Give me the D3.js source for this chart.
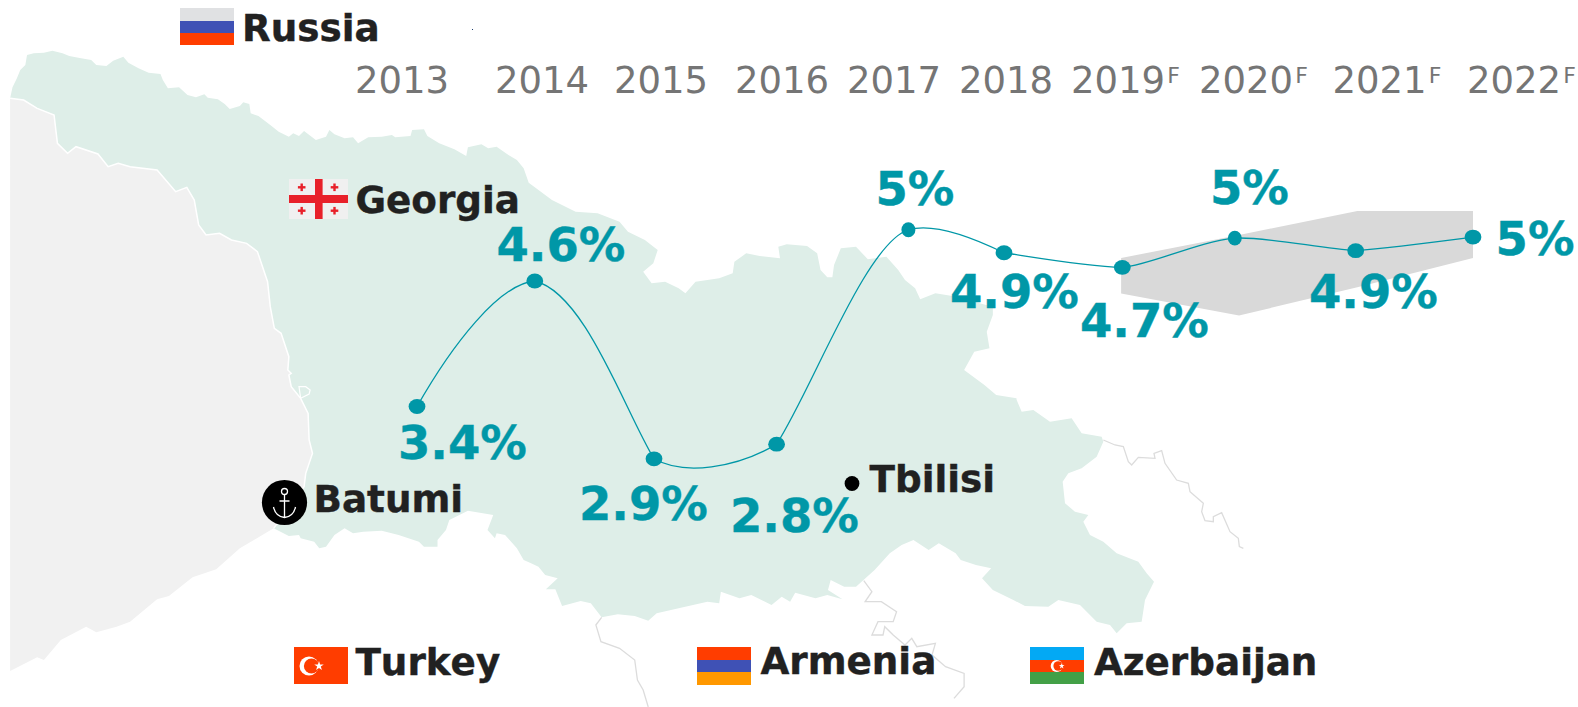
<!DOCTYPE html>
<html><head><meta charset="utf-8">
<script src="https://cdn.jsdelivr.net/npm/d3@7/dist/d3.min.js"></script>
<style>html,body{margin:0;padding:0;background:#fff}svg{display:block}text{font-family:"DejaVu Sans",sans-serif;font-kerning:none}</style>
</head><body><svg id="c" width="1578" height="707"></svg>
<script>
// ---- chart data ----
const years = [2013,2014,2015,2016,2017,2018,2019,2020,2021,2022];
const forecastFlag = [0,0,0,0,0,0,1,1,1,1];
const valueLabels = ["3.4%","4.6%","2.9%","2.8%","5%","4.9%","4.7%","5%","4.9%","5%"];
// heights as plotted in the picture (differ slightly from the printed labels)
const plotted = [3.4,4.6,2.9,3.04,5.09,4.87,4.73,5.01,4.89,5.02];
const bandYears = [2018.99,2020.035,2021.014,2022];
const bandUpper = [4.82,5.04,5.27,5.27];
const bandLower = [4.48,4.27,4.54,4.82];
const countries = ["Russia","Georgia","Batumi","Tbilisi","Turkey","Armenia","Azerbaijan"];
// the line's smoothing, per segment: how far along the year and by how much value each handle reaches
const leaveYear  = [.297,.419,.245,.273,.26,.304,.247,.25,.249];
const leaveValue = [.588,-.115,-.163,.535,.07,-.051,.022,.017,.022];
const arriveYear = [.304,.252,.326,.322,.314,.315,.309,.295,.281];
const arriveValue= [-.029,.478,-.229,-.131,.14,.012,-.026,.022,-.041];

// ---- scales ----
const x = d3.scaleLinear().domain(years).range([417,534.8,654,776.6,908.4,1004,1122.3,1234.8,1355.7,1473]);
const y = d3.scaleLinear().domain([3.4,4.6]).range([406.5,281]);
const yearLeft = d3.scaleOrdinal().domain(years).range([355,495,614,735,847,959,1071,1199,1332.5,1467]);
const labelX = d3.scaleOrdinal().domain(years).range([398,496.5,579,730,875.5,950,1080,1210,1309,1495.6]);
const labelY = d3.scaleOrdinal().domain(years).range([459,261,520,532,205,308,337,204,308,255]);
const nameX = d3.scaleOrdinal().domain(countries).range([242,355.4,313.5,869.5,355.4,760.4,1094]);
const nameY = d3.scaleOrdinal().domain(countries).range([40.7,213.3,511.7,491.7,675,674.3,675]);

const crop = (ox,oy,fx,pts)=>pts.map(p=>[ox+p[0]/fx, oy+p[1]/3]);
const north = crop(0,0,2.96,[[30,295],[37,262],[50,235],[60,210],[75,195],[80,165],[100,160],[130,158],[155,152],[185,160],[205,168],[240,175],[270,180],[285,195],[315,198],[335,182],[365,170],[380,188],[410,205],[440,218],[475,222],[482,240],[497,265],[530,262],[555,285],[580,292],[605,283],[615,293],[645,298],[665,312],[680,327],[710,318],[720,307],[738,312],[742,340],[765,348],[800,375],[825,395],[855,410],[868,400],[885,408],[900,393],[935,420],[965,410],[975,390],[990,403],[1020,415],[1045,412],[1060,430],[1090,412],[1130,410],[1160,405],[1170,412],[1215,408],[1220,390],[1255,388],[1265,408],[1300,430],[1345,448],[1380,468],[1385,442],[1425,433],[1445,445],[1470,440],[1505,465],[1530,480],[1550,505],[1565,548]]);
const northEast = crop(530,200,2.96,[[65,0],[135,35],[200,40],[265,65],[290,95],[340,120],[378,150],[365,190],[335,215],[360,250],[400,245],[440,265],[460,280],[490,245],[560,235],[600,220],[605,185],[640,160],[680,168],[740,175],[735,140],[760,133],[820,138],[850,160],[860,210],[880,232],[895,232],[900,195],[920,145],[965,140],[1000,178],[1055,170],[1090,210],[1110,240],[1140,265],[1155,298],[1200,280],[1250,288],[1370,320],[1370,345],[1352,395],[1360,445],[1315,455],[1285,510],[1345,555],[1380,585],[1440,595]]);
const east = crop(1000,400,3,[[50,0],[65,35],[100,30],[150,65],[215,55],[245,100],[305,110],[310,125],[290,170],[245,205],[205,220],[188,245],[195,310],[225,335],[265,345],[250,365],[270,405],[310,425],[350,460],[415,485],[440,520],[462,545],[435,600],[425,665],[380,670],[350,700],[330,675],[290,665],[240,615],[175,600],[145,620],[75,618],[40,600]]);
const southA = crop(530,470,2.96,[[1370,360],[1338,325],[1365,295],[1320,285],[1275,270],[1260,250],[1210,220],[1180,240],[1135,210],[1100,225],[1065,250],[1020,300],[965,350],[930,350],[890,330],[882,360],[925,388],[880,375],[845,385],[785,368],[770,395],[745,380],[715,405],[655,375],[620,385],[565,365],[560,400],[525,395],[440,415],[375,430],[350,452],[310,438],[260,433],[212,442],[180,400],[150,393],[95,408],[75,358],[47,358],[82,325],[45,315],[25,290],[0,278]]);
const southB = crop(0,470,2.96,[[1550,270],[1530,235],[1495,195],[1470,190],[1465,205],[1443,180],[1460,135],[1385,122],[1330,150],[1320,180],[1295,210],[1295,230],[1255,230],[1240,215],[1180,195],[1130,182],[1075,185],[1045,190],[1020,175],[990,195],[965,230],[945,235],[930,215],[890,205],[885,195],[855,198],[810,175]]);
const coast = [...crop(0,470,2.96,[[810,175],[900,50]]),
  ...crop(0,240,2.96,[[905,700],[925,640],[915,600],[912,520],[890,475],[862,440],[855,405],[862,400],[852,390],[855,350],[832,280],[812,265],[800,200],[792,125],[762,35],[730,10],[685,0]]),
  ...crop(0,0,2.96,[[650,700],[610,705],[588,675],[575,600],[553,562],[520,575],[465,510],[385,500],[350,490],[320,500],[290,462],[225,440],[200,460],[170,430],[160,345],[110,325],[70,300],[30,295]])];
const islet = crop(0,240,2.96,[[890,475],[915,462],[918,450],[905,440],[885,440],[890,475]]);
const westEdge = crop(0,470,2.96,[[30,603],[110,562],[130,570],[180,510],[255,470],[285,487],[345,470],[385,455],[465,388],[500,378],[570,322],[640,298],[710,235],[810,175]]);
const borderA = crop(530,470,2.96,[[212,442],[195,465],[210,515],[265,535],[310,570],[318,630],[335,660],[350,711]]);
const borderB = crop(530,470,2.96,[[988,332],[1012,365],[992,395],[1040,395],[1085,425],[1075,455],[1030,455],[1012,495],[1045,495],[1050,470],[1075,495],[1110,525],[1130,505],[1145,530],[1200,520],[1190,555],[1230,590],[1285,610],[1285,650],[1255,685]]);
const borderC = crop(1000,400,3,[[310,120],[345,135],[370,140],[385,185],[395,195],[415,172],[465,175],[462,160],[485,152],[495,190],[530,240],[565,250],[570,275],[610,310],[605,335],[615,362],[640,365],[640,350],[665,338],[690,395],[715,415],[718,440],[730,445]]);

const svg = d3.select("#c");
const ln = d3.line();
const poly = pts => ln(pts)+"Z";

// map
svg.append("path").attr("d",poly([...coast,...westEdge])).attr("fill","#f1f1f1");
svg.append("path").attr("d",poly([...north,...northEast,...east,...southA,...southB,...coast])).attr("fill","#deeee8");
svg.append("path").attr("d",ln(coast)).attr("fill","none").attr("stroke","#fff").attr("stroke-width",1.5);
svg.append("path").attr("d",ln(islet)).attr("fill","none").attr("stroke","#fff").attr("stroke-width",1.2);
[borderA,borderB,borderC].forEach(b=>svg.append("path").attr("d",ln(b)).attr("fill","none").attr("stroke","#dcdcdc").attr("stroke-width",1.3));

// tiny speck
svg.append("rect").attr("x",472).attr("y",29).attr("width",1).attr("height",1).attr("fill","#1a3a6a");

// forecast band
const bandRows = bandYears.map((t,i)=>({t,u:bandUpper[i],l:bandLower[i]}));
svg.append("path").datum(bandRows)
  .attr("d",d3.area().x(d=>x(d.t)).y0(d=>y(d.l)).y1(d=>y(d.u)))
  .attr("fill","#d9d9d9");

// line + dots
const rows = years.map((t,i)=>({t,v:plotted[i],label:valueLabels[i],f:forecastFlag[i]}));
const lp = d3.path();
lp.moveTo(x(years[0]),y(plotted[0]));
leaveYear.forEach((_,i)=>{
  const t0=years[i],t1=years[i+1],v0=plotted[i],v1=plotted[i+1];
  lp.bezierCurveTo(x(t0+leaveYear[i]),y(v0+leaveValue[i]),x(t1-arriveYear[i]),y(v1+arriveValue[i]),x(t1),y(v1));
});
svg.append("path").attr("d",lp.toString())
  .attr("fill","none").attr("stroke","#0097a7").attr("stroke-width",1.3);
svg.selectAll("ellipse.pt").data(rows).join("ellipse").attr("class","pt")
  .attr("cx",d=>x(d.t)).attr("cy",d=>y(d.v))
  .attr("rx",d=>(d.t===2017||d.t===2020)?7:8.4).attr("ry",7.4).attr("fill","#0097a7");
svg.selectAll("text.val").data(rows).join("text").attr("class","val")
  .attr("x",d=>labelX(d.t)).attr("y",d=>labelY(d.t)).text(d=>d.label)
  .attr("font-size",46.5).attr("font-weight",700).attr("fill","#0097a7").attr("stroke","#0097a7").attr("stroke-width",0.4);

// year labels
const yl = svg.selectAll("text.yr").data(rows).join("text").attr("class","yr")
  .attr("x",d=>yearLeft(d.t)).attr("y",93).attr("font-size",37).attr("fill","#757575");
yl.append("tspan").text(d=>d.t);
yl.filter(d=>d.f).append("tspan").text("F").attr("font-size",22).attr("dx",2).attr("dy",-10);

// names
svg.selectAll("text.nm").data(countries).join("text").attr("class","nm")
  .attr("x",d=>nameX(d)).attr("y",d=>nameY(d)).text(d=>d)
  .attr("font-size",37.3).attr("font-weight",700).attr("fill","#212121").attr("stroke","#212121").attr("stroke-width",0.4);

// flags
function stripes(x0,y0,w,hs,cols){let yy=y0;hs.forEach((h,i)=>{svg.append("rect").attr("x",x0).attr("y",yy).attr("width",w).attr("height",h).attr("fill",cols[i]);yy+=h;});}
stripes(180,8,54,[13,12,12],["#e0e1e3","#3f51b5","#ff3d00"]);
stripes(697,647,54,[13,12,13],["#ff3d00","#3f51b5","#ff9800"]);
stripes(1030,647,54,[13,12,12],["#03a9f4","#ff3d00","#43a047"]);
svg.append("rect").attr("x",294).attr("y",647).attr("width",54).attr("height",37).attr("fill","#ff3d00");
svg.append("circle").attr("cx",309).attr("cy",666).attr("r",9.5).attr("fill","#fff");
svg.append("circle").attr("cx",311.5).attr("cy",666).attr("r",7.6).attr("fill","#ff3d00");
svg.append("path").attr("d",d3.symbol(d3.symbolStar,28)()).attr("transform","translate(319,666)").attr("fill","#fff");
svg.append("circle").attr("cx",1056.7).attr("cy",666).attr("r",6).attr("fill","#fff");
svg.append("circle").attr("cx",1058.2).attr("cy",666).attr("r",4.8).attr("fill","#ff3d00");
svg.append("path").attr("d",d3.symbol(d3.symbolStar,10)()).attr("transform","translate(1061.7,666)").attr("fill","#fff");
svg.append("rect").attr("x",289).attr("y",179).attr("width",59).attr("height",40).attr("fill","#f0f0f0");
const red="#e8202a";
svg.append("rect").attr("x",315).attr("y",179).attr("width",7.6).attr("height",40).attr("fill",red);
svg.append("rect").attr("x",289).attr("y",195).attr("width",59).attr("height",8).attr("fill",red);
[[301.7,187.3],[334.5,187.3],[301.7,210.7],[334.5,210.7]].forEach(c=>{
  svg.append("rect").attr("x",c[0]-3.8).attr("y",c[1]-1.2).attr("width",7.6).attr("height",2.4).attr("fill",red);
  svg.append("rect").attr("x",c[0]-1.2).attr("y",c[1]-3.8).attr("width",2.4).attr("height",7.6).attr("fill",red);
});

// Tbilisi dot and Batumi anchor
svg.append("circle").attr("cx",852).attr("cy",483.5).attr("r",7.4).attr("fill","#000");
const a = svg.append("g").attr("transform","translate(284.5,502.5)");
a.append("circle").attr("r",22.6).attr("fill","#000");
a.append("circle").attr("cy",-11).attr("r",3).attr("fill","none").attr("stroke","#fff").attr("stroke-width",1.3);
a.append("path").attr("d","M0,-8V15M-5,-1.5H5M-11,4.5Q-9,14 0,15Q9,14 11,4.5").attr("fill","none").attr("stroke","#fff").attr("stroke-width",1.3);
</script></body></html>
